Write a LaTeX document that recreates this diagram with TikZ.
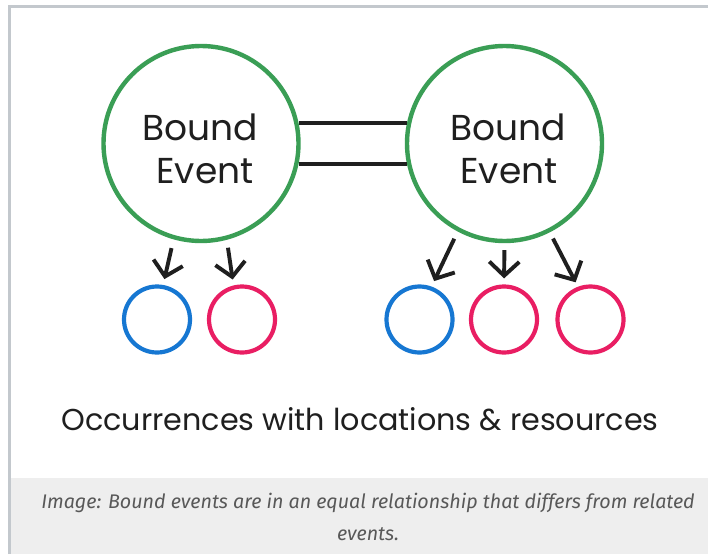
\documentclass[tikz,border=0pt]{standalone}
\usepackage{fontspec}
\setmainfont{Poppins}
\newfontfamily\capfont{Fira Sans}
\usetikzlibrary{arrows.meta}
\definecolor{evgreen}{HTML}{3A9E55}
\definecolor{locblue}{HTML}{1677D2}
\definecolor{respink}{HTML}{E91E63}
\definecolor{ink}{HTML}{1F1F1F}
\definecolor{framegray}{HTML}{C3C8CD}
\definecolor{bandgray}{HTML}{EEEEEE}
\definecolor{capgray}{HTML}{585858}
\begin{document}
\begin{tikzpicture}[x=1pt,y=-1pt,
  bigev/.style={circle, draw=evgreen, line width=4.4pt, minimum size=195pt, inner sep=0pt},
  locc/.style={circle, draw=locblue, line width=4.2pt, minimum size=66pt, inner sep=0pt},
  resc/.style={circle, draw=respink, line width=4.2pt, minimum size=66pt, inner sep=0pt},
  evtext/.style={font=\fontsize{36}{43}\selectfont, text=ink, inner sep=0pt, anchor=base},
  bond/.style={draw=ink, line width=4pt},
  rel/.style={draw=ink, line width=3.9pt, -{Straight Barb[length=14pt,width=30pt]}},
  capt/.style={font=\capfont\itshape\fontsize{19.7}{24}\selectfont, text=capgray, inner sep=0pt, anchor=base}
]
\useasboundingbox (0,0) rectangle (708,554);
\fill[white] (0,0) rectangle (708,554);
% caption band and frame
\fill[bandgray] (11,478) rectangle (708,554);
\draw[framegray, line width=3pt] (9.5,554) -- (9.5,6.5) -- (708,6.5);

% bound events
\node[bigev] (L) at (201,143.5) {};
\node[bigev] (R) at (504.5,143.5) {};
\node[evtext] (Lb) at (200,140) {Bound};
\node[evtext] (Le) at (205,183) {Event};
\node[evtext] (Rb) at (508,140) {Bound};
\node[evtext] (Re) at (509,183) {Event};

% equal relationship
\draw[bond] (L.12.7) -- (L.12.7 -| R.167.3);
\draw[bond] (L.-12.4) -- (L.-12.4 -| R.192.4);

% occurrences
\node[locc] (b1) at (157,319.5) {};
\node[resc] (p1) at (242,319.5) {};
\node[locc] (b2) at (419.5,319.5) {};
\node[resc] (p2) at (504,319.5) {};
\node[resc] (p3) at (590.5,319.5) {};

\draw[rel, shorten <=9pt, shorten >=6pt] (L.254) -- (b1.80);
\draw[rel, shorten <=8pt, shorten >=6pt] (L.285) -- (p1.104);
\draw[rel, shorten <=8pt, shorten >=6pt] (R.242.4) -- (b2.70.5);
\draw[rel, shorten <=7pt, shorten >=6pt] (R.south) -- (p2.north);
\draw[rel, shorten <=7pt, shorten >=5pt] (R.297.6) -- (p3.111.3);

% title
\node[font=\fontsize{30.2}{36}\selectfont, text=ink, inner sep=0pt, anchor=base] (title) at (360,430) {Occurrences with locations \& resources};

% caption
\node[capt] (cap1) at (368,508) {Image: Bound events are in an equal relationship that differs from related};
\node[capt] (cap2) at (368,540) {events.};
\end{tikzpicture}
\end{document}
